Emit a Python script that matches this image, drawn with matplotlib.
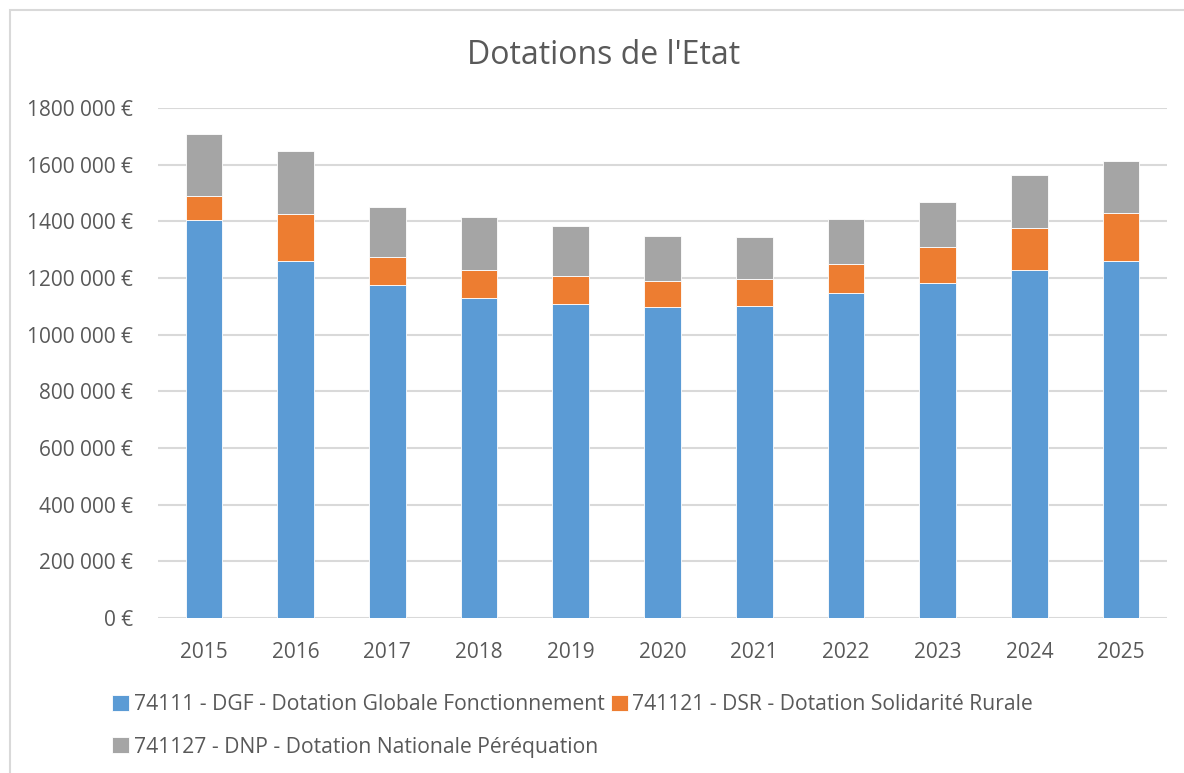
import matplotlib.pyplot as plt
from matplotlib.patches import Rectangle
from matplotlib.ticker import FuncFormatter
import numpy as np

plt.rcParams['font.family'] = ['Open Sans', 'DejaVu Sans']

years = ['2015', '2016', '2017', '2018', '2019', '2020', '2021', '2022', '2023', '2024', '2025']
dgf = [1403000, 1259000, 1175000, 1128000, 1110000, 1096000, 1100000, 1147000, 1182000, 1227000, 1261000]
dsr = [85000, 167000, 99000, 99000, 96000, 95000, 96000, 102000, 126000, 148000, 167000]
dnp = [221000, 224000, 178000, 189000, 176000, 159000, 147000, 158000, 161000, 188000, 185000]

labels = ['74111 - DGF - Dotation Globale Fonctionnement',
          '741121 - DSR - Dotation Solidarité Rurale',
          '741127 - DNP - Dotation Nationale Péréquation']
colors = ['#5B9BD5', '#ED7D31', '#A5A5A5']

W, H = 1184, 773
fig = plt.figure(figsize=(W / 100, H / 100), dpi=100)

# chart area border (Excel style)
fig.patches.append(Rectangle((10 / W, -0.1), 1.2, 1 - 10 / H + 0.1, transform=fig.transFigure,
                             fill=False, edgecolor='#D9D9D9', linewidth=1.5))

ax = fig.add_axes([158 / W, 1 - 618 / H, (1167 - 158) / W, (618 - 108) / H])

x = np.arange(len(years))
bottom = np.zeros(len(years))
handles = []
for vals, col, lab in zip([dgf, dsr, dnp], colors, labels):
    b = ax.bar(x, vals, width=0.4, bottom=bottom, color=col, edgecolor='white',
               linewidth=0.6, label=lab, zorder=3)
    handles.append(b)
    bottom += np.array(vals)

ax.set_xlim(-0.5, len(years) - 0.5)
ax.set_ylim(0, 1800000)
ax.set_yticks(np.arange(0, 1800001, 200000))
ax.yaxis.set_major_formatter(FuncFormatter(
    lambda v, p: '0 €' if v == 0 else f'{int(v // 1000)} 000 €'))
ax.set_xticks(x)
ax.set_xticklabels(years)
ax.grid(axis='y', color='#D9D9D9', linewidth=1.5, zorder=0)
for s in ax.spines.values():
    s.set_visible(False)
ax.tick_params(axis='both', length=0, labelsize=15, colors='#595959')
ax.tick_params(axis='y', pad=18)
ax.tick_params(axis='x', pad=17)

fig.text(604 / W, 1 - 56 / H, "Dotations de l'Etat", ha='center', va='center',
         fontsize=23, color='#595959')

order = [0, 2, 1]
fig.legend([handles[i] for i in order], [labels[i] for i in order], ncol=2,
           loc='upper left', bbox_to_anchor=(104 / W, 1 - 686 / H), frameon=False,
           fontsize=15.2, labelcolor='#595959', handlelength=0.8, handleheight=0.8,
           handletextpad=0.2, columnspacing=0.3, labelspacing=1.0, borderaxespad=0)

fig.savefig('out.png', dpi=100)
